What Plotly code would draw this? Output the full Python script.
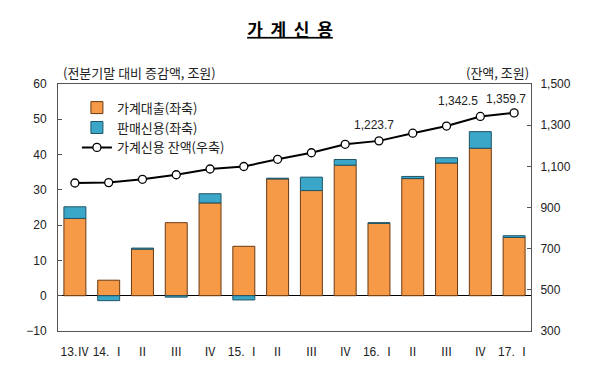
import plotly.graph_objects as go

categories = ["13.Ⅳ", "14. Ⅰ", "Ⅱ", "Ⅲ", "Ⅳ", "15. Ⅰ", "Ⅱ", "Ⅲ", "Ⅳ",
              "16. Ⅰ", "Ⅱ", "Ⅲ", "Ⅳ", "17. Ⅰ"]
loans = [21.9, 4.4, 13.2, 20.7, 26.3, 14.0, 33.1, 29.8, 37.0, 20.5, 33.2, 37.6, 41.8, 16.5]
sales = [3.3, -1.4, 0.3, -0.4, 2.6, -1.2, 0.2, 3.8, 1.6, 0.2, 0.6, 1.5, 4.7, 0.5]
balance = [1019.0, 1021.0, 1037.0, 1059.0, 1087.0, 1099.3, 1134.0, 1166.0, 1207.0,
           1223.7, 1261.0, 1295.8, 1342.5, 1359.7]
labeled = [9, 12, 13]
label_shift = {9: (-5, 16), 12: (-22, 15), 13: (-8, 14)}

xs = list(range(len(categories)))

FONT = "Arial, 'Liberation Sans', 'Noto Sans CJK KR', sans-serif"
KFONT = "'Noto Sans CJK KR', sans-serif"

fig = go.Figure()
fig.add_trace(go.Bar(x=xs, y=loans, name="가계대출(좌축)", width=0.65,
                     marker=dict(color="#F69A48", line=dict(color="#6B3A12", width=1))))
fig.add_trace(go.Bar(x=xs, y=sales, name="판매신용(좌축)", width=0.65,
                     marker=dict(color="#3BA7C8", line=dict(color="#1F5566", width=1))))
fig.add_trace(go.Scatter(x=xs, y=balance, name="가계신용 잔액(우축)", yaxis="y2",
                         mode="lines+markers",
                         line=dict(color="black", width=2),
                         marker=dict(symbol="circle", size=8, color="white",
                                     line=dict(color="black", width=1.3))))

annotations = [
    dict(text="(전분기말 대비 증감액, 조원)", xref="paper", yref="paper", x=0.006, y=1.0,
         xanchor="left", yanchor="bottom", showarrow=False,
         font=dict(family=KFONT, size=13, color="#222")),
    dict(text="(잔액, 조원)", xref="paper", yref="paper", x=1.0, y=1.0,
         xanchor="right", yanchor="bottom", showarrow=False,
         font=dict(family=KFONT, size=13, color="#222")),
]
for i in labeled:
    dx, dy = label_shift[i]
    annotations.append(dict(text=f"{balance[i]:,.1f}", x=xs[i], y=balance[i], xref="x",
                            yref="y2", showarrow=False, xanchor="center", yanchor="middle",
                            xshift=dx, yshift=dy,
                            font=dict(family=FONT, size=12, color="#222")))

fig.update_layout(
    width=600, height=385,
    margin=dict(l=50, r=77, t=76, b=62),
    paper_bgcolor="white", plot_bgcolor="white",
    barmode="relative",
    showlegend=True,
    font=dict(family=FONT, size=11, color="#222"),
    title=dict(text="<b><u>가\u00a0\u00a0계\u00a0\u00a0신\u00a0\u00a0용</u></b>", x=0.47,
               xanchor="center", y=0.943, yanchor="middle",
               font=dict(family=KFONT, size=17, color="black")),
    legend=dict(x=0.04, y=0.965, xanchor="left", yanchor="top", bgcolor="rgba(0,0,0,0)",
                font=dict(family=KFONT, size=13, color="#222"), tracegroupgap=0,
                itemwidth=30),
    xaxis=dict(tickmode="array", tickvals=xs, ticktext=categories,
               range=[-0.5, len(categories) - 0.5], showline=True, linecolor="#555",
               mirror=True, ticks="", showgrid=False, zeroline=False,
               ticklabelstandoff=10,
               tickfont=dict(family=FONT, size=12, color="#222")),
    yaxis=dict(range=[-10, 60], dtick=10, showline=True, linecolor="#555", mirror=True,
               ticks="inside", ticklen=4, tickcolor="#555", showgrid=False,
               zeroline=True, zerolinecolor="black", zerolinewidth=1.3,
               ticklabelstandoff=8,
               tickfont=dict(family=FONT, size=12, color="#222")),
    yaxis2=dict(range=[300, 1500], dtick=200, tick0=300, overlaying="y", side="right",
                showline=True, linecolor="#555", ticks="inside", ticklen=4,
                tickcolor="#555", showgrid=False, zeroline=False, tickformat=",",
                ticklabelstandoff=6,
                tickfont=dict(family=FONT, size=12, color="#222")),
    annotations=annotations,
)

fig.write_html("out.html")
